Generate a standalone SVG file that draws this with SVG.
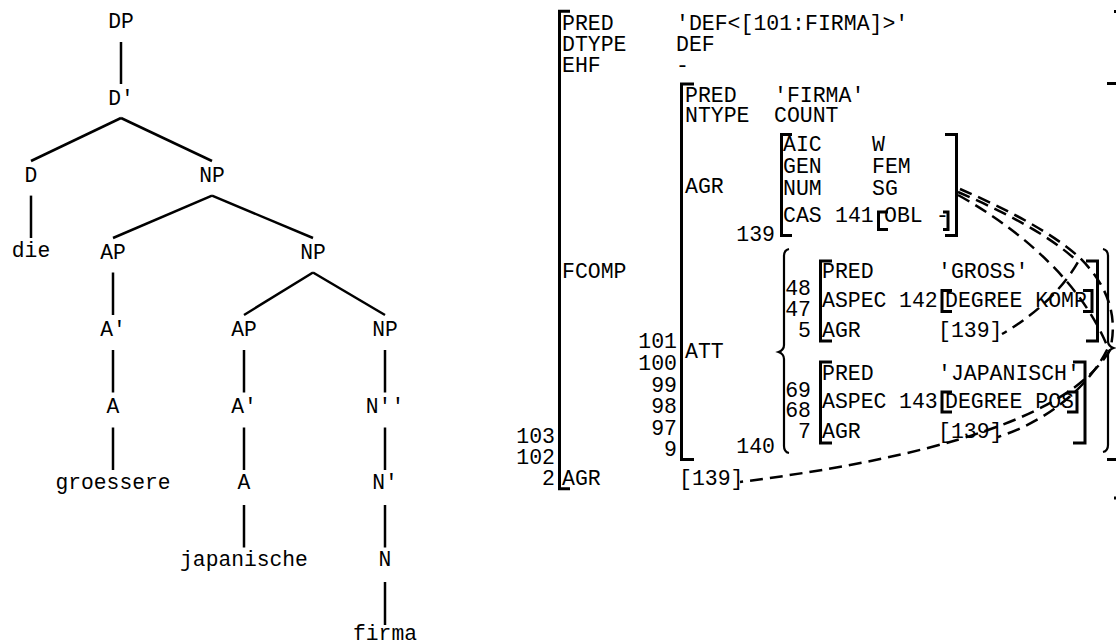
<svg xmlns="http://www.w3.org/2000/svg" width="1116" height="644" viewBox="0 0 1116 644">
<style>
text{font-family:"Liberation Mono","Courier New",monospace;fill:#000}
.t{font-size:21.3px;text-anchor:middle}
.f{font-size:21.5px}
.n{font-size:21.5px;text-anchor:end}
.e{stroke:#000;stroke-width:2.5;fill:none;stroke-linecap:butt}
.b{stroke:#000;stroke-width:3;fill:none}
.br{stroke:#000;stroke-width:2.2;fill:none}
.d{stroke:#000;stroke-width:2.5;fill:none;stroke-dasharray:13 7}
</style>
<rect width="1116" height="644" fill="#fff"/>
<g id="connectors">
<line class="e" x1="121" y1="42" x2="121" y2="84"/>
<line class="e" x1="121" y1="118" x2="31" y2="161"/>
<line class="e" x1="121" y1="118" x2="212" y2="161"/>
<line class="e" x1="31" y1="195.6" x2="31" y2="238"/>
<line class="e" x1="212" y1="195.6" x2="113" y2="238"/>
<line class="e" x1="212" y1="195.6" x2="313" y2="238"/>
<line class="e" x1="113" y1="272.5" x2="113" y2="315"/>
<line class="e" x1="313" y1="272.5" x2="244" y2="315"/>
<line class="e" x1="313" y1="272.5" x2="385" y2="315"/>
<line class="e" x1="113" y1="350" x2="113" y2="392.5"/>
<line class="e" x1="244" y1="350" x2="244" y2="392.5"/>
<line class="e" x1="385" y1="350" x2="385" y2="392.5"/>
<line class="e" x1="113" y1="427.5" x2="113" y2="470"/>
<line class="e" x1="244" y1="427.5" x2="244" y2="470"/>
<line class="e" x1="385" y1="427.5" x2="385" y2="470"/>
<line class="e" x1="244" y1="505" x2="244" y2="547.5"/>
<line class="e" x1="385" y1="505" x2="385" y2="547.5"/>
<line class="e" x1="385" y1="582" x2="385" y2="625"/>
</g>
<g id="n-DP"><text class="t" x="121" y="28">DP</text></g>
<g id="n-Dbar"><text class="t" x="121" y="105">D'</text></g>
<g id="n-D"><text class="t" x="31" y="182">D</text></g>
<g id="n-NP1"><text class="t" x="212" y="182">NP</text></g>
<g id="n-die"><text class="t" x="31" y="257">die</text></g>
<g id="n-AP1"><text class="t" x="113" y="258.5">AP</text></g>
<g id="n-NP2"><text class="t" x="313" y="258.5">NP</text></g>
<g id="n-Abar1"><text class="t" x="113" y="336">A'</text></g>
<g id="n-AP2"><text class="t" x="244" y="336">AP</text></g>
<g id="n-NP3"><text class="t" x="385" y="336">NP</text></g>
<g id="n-A1"><text class="t" x="113" y="413">A</text></g>
<g id="n-Abar2"><text class="t" x="244" y="413">A'</text></g>
<g id="n-Nbar2"><text class="t" x="385" y="413">N''</text></g>
<g id="n-groessere"><text class="t" x="113" y="488.5">groessere</text></g>
<g id="n-A2"><text class="t" x="244" y="489">A</text></g>
<g id="n-Nbar"><text class="t" x="385" y="489">N'</text></g>
<g id="n-japanische"><text class="t" x="244" y="565.5">japanische</text></g>
<g id="n-N"><text class="t" x="385" y="566">N</text></g>
<g id="n-firma"><text class="t" x="385" y="640">firma</text></g>

<g id="fs-outer">
<path class="b" d="M570 11.3 H559.5 V488.7 H570"/>
<path class="b" d="M1114 11.5 H1119 V498 H1114"/>
<text class="f" x="562" y="30">PRED</text><text class="f" x="676" y="30">'DEF&lt;[101:FIRMA]&gt;'</text>
<text class="f" x="562" y="51">DTYPE</text><text class="f" x="676" y="51">DEF</text>
<text class="f" x="562" y="72">EHF</text><text class="f" x="676" y="72">-</text>
<text class="f" x="562" y="278">FCOMP</text>
<text class="f" x="562" y="485">AGR</text><text class="f" x="679" y="485">[139]</text>
<text class="n" x="555" y="443">103</text>
<text class="n" x="555" y="464">102</text>
<text class="n" x="555" y="485">2</text>
</g>
<g id="fs-fcomp">
<path class="b" d="M694 84 H681.5 V459.5 H694"/>
<path class="b" d="M1107 83.5 H1119 V459.5 H1107"/>
<text class="f" x="685" y="102">PRED</text><text class="f" x="774" y="102">'FIRMA'</text>
<text class="f" x="685" y="122">NTYPE</text><text class="f" x="774" y="122">COUNT</text>
<text class="f" x="685" y="193">AGR</text>
<text class="f" x="685" y="358">ATT</text>
<text class="n" x="677" y="348">101</text>
<text class="n" x="677" y="370">100</text>
<text class="n" x="677" y="392">99</text>
<text class="n" x="677" y="413">98</text>
<text class="n" x="677" y="435">97</text>
<text class="n" x="677" y="456">9</text>
</g>
<g id="fs-agr">
<path class="b" d="M792 134.5 H781.5 V235.5 H792"/>
<path class="b" d="M945 134.5 H956.5 V235.5 H945"/>
<text class="f" x="783" y="151">AIC</text><text class="f" x="872" y="151">W</text>
<text class="f" x="783" y="173">GEN</text><text class="f" x="872" y="173">FEM</text>
<text class="f" x="783" y="195">NUM</text><text class="f" x="872" y="195">SG</text>
<text class="f" x="783" y="222">CAS</text><text class="f" x="835" y="222">141</text>
<text class="n" x="775" y="241">139</text>
</g>
<g id="fs-cas">
<path class="b" d="M888 212 H878.5 V229.5 H888"/>
<path class="b" d="M943 212 H948 V229.5 H943"/>
<text class="f" x="884" y="222">OBL</text><text class="f" x="936" y="222">-</text>
</g>
<g id="fs-att-set">
<path class="br" d="M789 249 Q784 250 784 256 L784 345 Q784 350 778.5 352 Q784 354 784 359 L784 446 Q784 452 789 453"/>
<path class="br" d="M1103 249 Q1108 250 1108 256 L1108 341 Q1108 346 1113.5 348 Q1108 350 1108 355 L1108 445 Q1108 451 1103 452"/>
<text class="n" x="775" y="453">140</text>
</g>
<g id="fs-gross">
<path class="b" d="M832 261 H820.5 V341 H832"/>
<path class="b" d="M1086 261 H1097.5 V341 H1086"/>
<text class="n" x="811" y="295">48</text>
<text class="n" x="811" y="316">47</text>
<text class="n" x="811" y="337">5</text>
<text class="f" x="822" y="278">PRED</text><text class="f" x="938" y="278">'GROSS'</text>
<text class="f" x="822" y="307">ASPEC</text><text class="f" x="899" y="307">142</text>
<text class="f" x="822" y="337">AGR</text><text class="f" x="938" y="337">[139]</text>
</g>
<g id="fs-gross-aspec">
<path class="b" d="M952 290.5 H942 V311.5 H952"/>
<path class="b" d="M1083 290.5 H1092 V311.5 H1083"/>
<text class="f" x="945" y="307">DEGREE KOMP</text>
</g>
<g id="fs-japanisch">
<path class="b" d="M832 362 H820.5 V443 H832"/>
<path class="b" d="M1073 362 H1085 V443 H1073"/>
<text class="n" x="811" y="397">69</text>
<text class="n" x="811" y="417">68</text>
<text class="n" x="811" y="438">7</text>
<text class="f" x="822" y="380">PRED</text><text class="f" x="938" y="380">'JAPANISCH'</text>
<text class="f" x="822" y="408">ASPEC</text><text class="f" x="899" y="408">143</text>
<text class="f" x="822" y="438">AGR</text><text class="f" x="938" y="438">[139]</text>
</g>
<g id="fs-jap-aspec">
<path class="b" d="M952 392 H942 V412 H952"/>
<path class="b" d="M1067 392 H1077 V412 H1067"/>
<text class="f" x="945" y="408">DEGREE POS</text>
</g>
<g id="links">
<path class="d" d="M958 192 C1000 210 1050 235 1078 262 C1065 285 1040 312 1002 334"/>
<path class="d" d="M958 195 C1030 235 1085 290 1108 348 C1090 385 1050 420 998 437"/>
<path class="d" d="M960 189 C1002 207 1052 232 1080 258 C1102 280 1120 310 1110 350 C1080 400 990 450 740 482"/>
</g>
</svg>
